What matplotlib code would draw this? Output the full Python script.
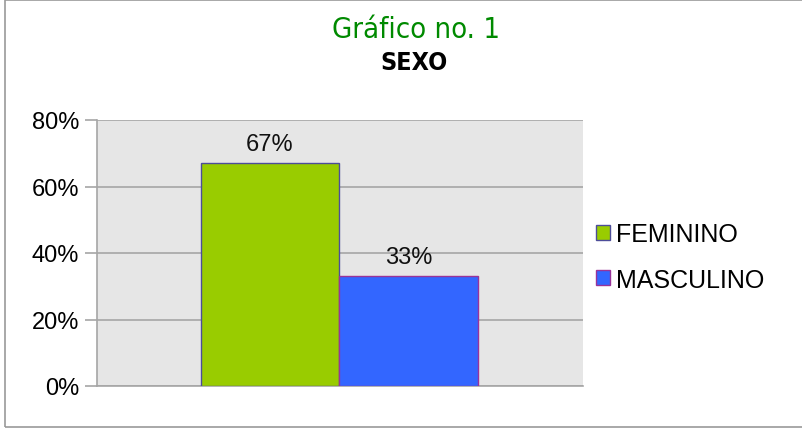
import matplotlib
matplotlib.use("Agg")
import matplotlib.pyplot as plt
from matplotlib.patches import Rectangle

# dados do gráfico
series = ["FEMININO", "MASCULINO"]
valores = [67, 33]
cores = ["#99CC00", "#3366FF"]
bordas = ["#4D4D99", "#993399"]
yticks = [0, 20, 40, 60, 80]

plt.rcParams["font.family"] = ["Liberation Sans", "DejaVu Sans"]

fig = plt.figure(figsize=(8.02, 4.31), dpi=100)
ax = fig.add_axes([97 / 802, 1 - 387 / 431, (583 - 97) / 802, (387 - 121) / 431])

largura = 0.285
pos = [-largura / 2 - 0.002, largura / 2 - 0.002]
for p, v, c, b, s in zip(pos, valores, cores, bordas, series):
    ax.bar(p, v, width=largura, color=c, edgecolor=b, linewidth=1, label=s, zorder=3)
    ax.text(p, v + 2.5, f"{v}%", ha="center", va="bottom", fontsize=17, color="#111111")

ax.set_xlim(-0.5, 0.5)
ax.set_ylim(0, 80)
ax.set_yticks(yticks)
ax.set_yticklabels([f"{t}%" for t in yticks], fontsize=17)
ax.set_xticks([])
ax.set_facecolor("#E6E6E6")
ax.yaxis.grid(True, color="#A6A6A6", linewidth=1.2, zorder=0)
ax.set_axisbelow(True)
ax.tick_params(axis="y", length=9, color="#A6A6A6", width=1.2, pad=4)
for lado in ["top", "right"]:
    ax.spines[lado].set_visible(False)
for lado in ["left", "bottom"]:
    ax.spines[lado].set_color("#A6A6A6")
    ax.spines[lado].set_linewidth(1.2)

# título em fonte condensada
fig.text(416 / 802, 1 - 30 / 431, "Gráfico no. 1", ha="center", va="center",
         fontsize=21, color="#008A00", family="DejaVu Sans", fontstretch="condensed")
fig.text(414 / 802, 1 - 63 / 431, "SEXO", ha="center", va="center",
         fontsize=18, fontweight="bold", color="black",
         family="DejaVu Sans", fontstretch="condensed")

leg = ax.legend(loc="center left", frameon=False,
                fontsize=18, handlelength=0.55, handleheight=0.55,
                handletextpad=0.25, labelspacing=0.85, borderpad=0, borderaxespad=0)
leg.set_bbox_to_anchor((1 + 13 / 486, 0.485), transform=ax.transAxes)

# moldura externa
fig.patches.append(Rectangle((5 / 802, 3 / 431), 1.0, 1 - 4 / 431,
                             transform=fig.transFigure, fill=False,
                             edgecolor="#9A9A9A", linewidth=1.2))

fig.savefig("out.png", dpi=100)
